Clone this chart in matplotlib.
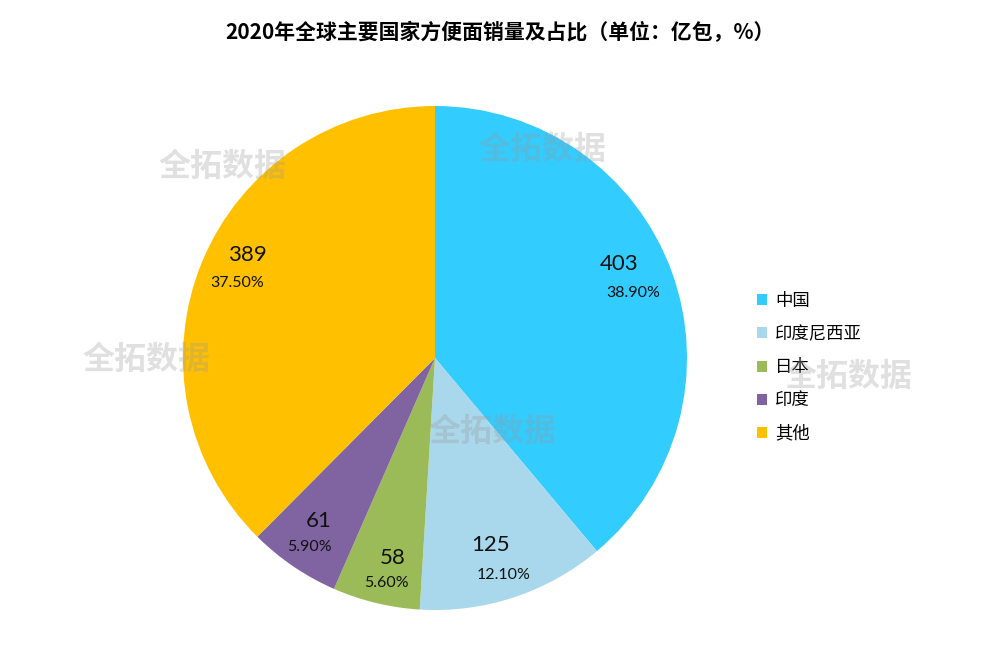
import matplotlib.pyplot as plt
import numpy as np

plt.rcParams['font.family'] = ['Noto Sans CJK SC', 'DejaVu Sans']

labels = ["中国", "印度尼西亚", "日本", "印度", "其他"]
values = [403, 125, 58, 61, 389]
pcts = ["38.90%", "12.10%", "5.60%", "5.90%", "37.50%"]
colors = ["#33CCFF", "#A9D8EC", "#9BBB59", "#8064A2", "#FFC000"]

# label nudges in pixels (dx, dy screen-down) for value and percent text
num_off = [(-12, -23), (-10, -12), (7, -3), (1, -10), (6, -23)]
pct_off = [(2, 6), (3, 18), (0, 22), (-8, 16), (-4, 5)]

fig = plt.figure(figsize=(10, 6.67), dpi=100)
W, H = 1000, 667
cx, cy, r = 435, 358, 252
ax = fig.add_axes([(cx - r) / W, (H - cy - r) / H, 2 * r / W, 2 * r / H])

wedges, _ = ax.pie(values, colors=colors, startangle=90, counterclock=False,
                   wedgeprops=dict(linewidth=0))
ax.set_xlim(-1, 1)
ax.set_ylim(-1, 1)
ax.set_aspect("equal")

total = sum(values)
cum = 0
for i, (v, p) in enumerate(zip(values, pcts)):
    mid = 90 - (cum + v / 2) / total * 360
    cum += v
    x = 0.83 * np.cos(np.radians(mid))
    y = 0.83 * np.sin(np.radians(mid))
    ax.text(x + num_off[i][0] / r, y - num_off[i][1] / r, str(v), ha="center", va="center",
            fontsize=16, family=["Lato", "DejaVu Sans"], color="#111111")
    ax.text(x + pct_off[i][0] / r, y - pct_off[i][1] / r, p, ha="center", va="center",
            fontsize=11.5, family=["Lato", "DejaVu Sans"], color="#111111")

fig.text(0.5, 1 - 32 / H, "2020年全球主要国家方便面销量及占比（单位：亿包，%）",
         ha="center", va="center", fontsize=15, fontweight="bold")

leg = fig.legend(wedges, labels, loc="upper left", bbox_to_anchor=(741 / W, 1 - 276 / H),
                 frameon=False, fontsize=12.5, handlelength=0.6, handleheight=0.6,
                 labelspacing=0.88, handletextpad=0.45)

for (wx, wy) in [(222, 167), (542, 150), (146, 360), (848, 377), (492, 432)]:
    fig.text(wx / W, 1 - wy / H, "全拓数据", ha="center", va="center",
             fontsize=23, fontweight="bold", color="#999999", alpha=0.3, zorder=10)

fig.savefig("out.png", dpi=100, facecolor="white")
